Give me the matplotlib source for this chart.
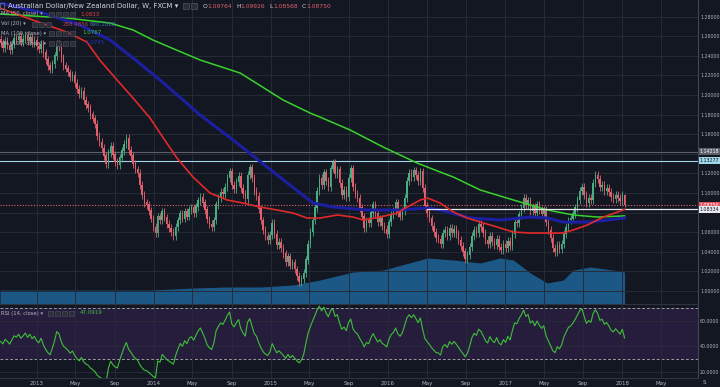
import numpy as np
import pandas as pd
import matplotlib
matplotlib.use("Agg")
import matplotlib.pyplot as plt
from matplotlib.patches import Rectangle

# weekly closes AUD/NZD (first week 2012-09-10)
closes = [
    1.2530, 1.2480, 1.2550, 1.2510, 1.2460,
    1.2520, 1.2580, 1.2560, 1.2600, 1.2540,
    1.2570, 1.2610, 1.2550, 1.2590, 1.2530,
    1.2560, 1.2500, 1.2470, 1.2520, 1.2430,
    1.2360, 1.2300, 1.2260, 1.2320, 1.2400,
    1.2520, 1.2490, 1.2380, 1.2300, 1.2270,
    1.2230, 1.2180, 1.2200, 1.2120, 1.2060,
    1.2010, 1.2040, 1.1950, 1.1900, 1.1870,
    1.1800, 1.1760, 1.1700, 1.1580, 1.1520,
    1.1460, 1.1380, 1.1300, 1.1410, 1.1480,
    1.1390, 1.1320, 1.1290, 1.1360, 1.1430,
    1.1500, 1.1560, 1.1440, 1.1380, 1.1300,
    1.1240, 1.1200, 1.1080, 1.0980, 1.0900,
    1.0880, 1.0820, 1.0740, 1.0650, 1.0590,
    1.0760, 1.0720, 1.0810, 1.0750, 1.0680,
    1.0640, 1.0600, 1.0560, 1.0650, 1.0720,
    1.0790, 1.0740, 1.0810, 1.0760, 1.0830,
    1.0850, 1.0800, 1.0860, 1.0920, 1.0960,
    1.0900, 1.0830, 1.0730, 1.0680, 1.0650,
    1.0720, 1.0880, 1.0950, 1.1010, 1.0990,
    1.1060, 1.1150, 1.1220, 1.1080, 1.1040,
    1.1110, 1.1170, 1.1050, 1.0990, 1.0940,
    1.1180, 1.1260, 1.1150, 1.1020, 1.0970,
    1.0840, 1.0720, 1.0620, 1.0560, 1.0520,
    1.0570, 1.0690, 1.0580, 1.0470, 1.0500,
    1.0440, 1.0380, 1.0300, 1.0350, 1.0260,
    1.0290, 1.0220, 1.0150, 1.0090, 1.0120,
    1.0180, 1.0320, 1.0480, 1.0600, 1.0720,
    1.0850, 1.1020, 1.1150, 1.1080, 1.1210,
    1.1120, 1.1060, 1.1250, 1.1310, 1.1190,
    1.1240, 1.1100, 1.0980, 1.1030, 1.0960,
    1.1150, 1.1250, 1.1060, 1.0990, 1.0950,
    1.0850, 1.0760, 1.0640, 1.0720, 1.0690,
    1.0800, 1.0880, 1.0790, 1.0700, 1.0740,
    1.0660, 1.0630, 1.0580, 1.0700, 1.0780,
    1.0820, 1.0900, 1.0800, 1.0760, 1.0820,
    1.0950, 1.1120, 1.1200, 1.1160, 1.1230,
    1.1180, 1.1120, 1.1220, 1.1050, 1.0870,
    1.0800, 1.0740, 1.0660, 1.0600, 1.0540,
    1.0530, 1.0480, 1.0590, 1.0620, 1.0560,
    1.0640, 1.0590, 1.0630, 1.0580, 1.0520,
    1.0460, 1.0400, 1.0330, 1.0370, 1.0450,
    1.0560, 1.0620, 1.0590, 1.0680, 1.0650,
    1.0590, 1.0520, 1.0480, 1.0560, 1.0500,
    1.0470, 1.0530, 1.0450, 1.0420, 1.0480,
    1.0440, 1.0510, 1.0460, 1.0580, 1.0700,
    1.0690, 1.0780, 1.0850, 1.0950, 1.0880,
    1.0920, 1.0820, 1.0860, 1.0800, 1.0880,
    1.0830, 1.0790, 1.0830, 1.0700, 1.0620,
    1.0540, 1.0440, 1.0400, 1.0470, 1.0430,
    1.0480, 1.0580, 1.0650, 1.0720, 1.0740,
    1.0790, 1.0850, 1.0930, 1.1020, 1.1060,
    1.0980, 1.0900, 1.0950, 1.0930, 1.1100,
    1.1180, 1.1140, 1.1060, 1.1080, 1.1020,
    1.1050, 1.1010, 1.0960, 1.0940, 1.0980,
    1.0950, 1.0920, 1.0976, 1.0875,
]
first_open = 1.2570
wick = 0.004
rsi_seed = (0.0040, 0.0048)   # avg gain / avg loss carried in from before the window

# moving averages
ma50_dates = ['2012-09-08', '2012-12-19', '2013-04-04', '2013-06-06', '2013-07-16', '2013-09-08',
              '2013-10-28', '2013-12-20', '2014-01-20', '2014-03-14', '2014-05-03', '2014-06-25',
              '2014-08-17', '2014-10-06', '2014-11-28', '2015-01-20', '2015-03-11', '2015-04-24',
              '2015-06-03', '2015-07-27', '2015-09-14', '2015-10-16', '2015-12-08', '2016-01-30',
              '2016-03-01', '2016-04-11', '2016-05-03', '2016-06-12', '2016-07-23', '2016-09-04',
              '2016-10-15', '2016-12-07', '2017-01-26', '2017-03-20', '2017-05-12', '2017-07-01',
              '2017-08-01', '2017-09-14', '2017-11-03', '2017-12-17', '2018-01-08']
ma50 = [1.2887, 1.2765, 1.2642, 1.2540, 1.2357, 1.2153, 1.1969, 1.1765, 1.1612, 1.1357,
        1.1163, 1.1000, 1.0929, 1.0898, 1.0857, 1.0827, 1.0796, 1.0745, 1.0745, 1.0776,
        1.0755, 1.0725, 1.0755, 1.0796, 1.0857, 1.0929, 1.0949, 1.0898, 1.0806, 1.0745,
        1.0704, 1.0653, 1.0602, 1.0592, 1.0592, 1.0592, 1.0623, 1.0674, 1.0755, 1.0806, 1.0833]

ma_blue_dates = ['2012-09-08', '2013-01-10', '2013-05-15', '2013-08-17', '2013-10-28', '2014-01-20',
                 '2014-04-02', '2014-05-25', '2014-09-05', '2014-12-20', '2015-04-02', '2015-05-13',
                 '2015-07-14', '2015-10-28', '2016-02-08', '2016-05-03', '2016-06-12', '2016-09-14',
                 '2016-12-16', '2017-03-20', '2017-05-12', '2017-07-01', '2017-09-23', '2018-01-08']
ma_blue = [1.2938, 1.2846, 1.2714, 1.2561, 1.2377, 1.2153, 1.1949, 1.1796, 1.1541, 1.1265,
           1.1000, 1.0898, 1.0857, 1.0827, 1.0827, 1.0847, 1.0827, 1.0745, 1.0725, 1.0755,
           1.0745, 1.0704, 1.0704, 1.0745]

ma100_dates = ['2012-09-08', '2013-04-04', '2013-08-17', '2013-10-28', '2013-12-29', '2014-01-20',
               '2014-05-25', '2014-09-27', '2015-02-08', '2015-05-03', '2015-06-03', '2015-09-05',
               '2015-12-17', '2016-04-01', '2016-06-12', '2016-07-23', '2016-10-15', '2017-01-26',
               '2017-05-12', '2017-08-01', '2017-10-15', '2018-01-08']
ma100 = [1.2826, 1.2785, 1.2734, 1.2663, 1.2561, 1.2530, 1.2357, 1.2224, 1.1949, 1.1816,
         1.1775, 1.1643, 1.1469, 1.1306, 1.1214, 1.1163, 1.1031, 1.0929, 1.0827, 1.0776,
         1.0755, 1.0767]

# volume (20) average, area at the bottom of the price panel
vol_dates = ['2012-09-08', '2013-06-01', '2013-12-20', '2014-05-03', '2014-08-17', '2014-11-28',
             '2015-03-11', '2015-06-03', '2015-09-14', '2015-12-17', '2016-04-11', '2016-05-03',
             '2016-07-23', '2016-10-15', '2016-12-16', '2017-01-26', '2017-03-20', '2017-05-12',
             '2017-07-01', '2017-08-01', '2017-09-23', '2017-12-01', '2018-01-08']
vol_ma = [300, 300, 300, 345, 367, 367, 410, 518, 690, 734, 950, 993, 950, 885, 993, 950,
          670, 453, 518, 734, 799, 734, 690]

bg = '#131722'
grid_c = '#262b38'
txt_c = '#b2b5be'

dates = pd.date_range('2012-09-10', periods=len(closes), freq='7D')
c = np.array(closes)
o = np.r_[first_open, c[:-1]]
hi = np.maximum(o, c) + wick
lo = np.minimum(o, c) - wick
hi[-1], lo[-1] = 1.09926, 1.08568

# Wilder RSI(14)
chg = c - o
ag, al = rsi_seed
rsi = []
for ch in chg:
    ag = (ag * 13 + max(ch, 0)) / 14
    al = (al * 13 + max(-ch, 0)) / 14
    rsi.append(100 - 100 / (1 + ag / al))

W, H = 720, 387
fig = plt.figure(figsize=(7.2, 3.87), dpi=100, facecolor=bg)
ax = fig.add_axes([0, (H - 304) / H, 698 / W, 304 / H], facecolor=bg)
ar = fig.add_axes([0, (H - 378) / H, 698 / W, 73 / H], facecolor=bg, sharex=ax)

xl = (pd.Timestamp('2012-09-08'), pd.Timestamp('2018-08-25'))
ticks = []
tlabels = []
for yr in range(2013, 2019):
    for m, lab in [(1, str(yr)), (5, 'May'), (9, 'Sep')]:
        t = pd.Timestamp(yr, m, 1)
        if t < xl[1]:
            ticks.append(t)
            tlabels.append(lab)

# volume area
ax.fill_between(pd.to_datetime(vol_dates), 0, np.array(vol_ma) / 6560.0,
                transform=ax.get_xaxis_transform(), color='#1c5886', lw=0, zorder=1)

# candles
up = c >= o
col = np.where(up, '#4bae82', '#e0606e')
ax.vlines(dates, lo, hi, colors=col, lw=0.6, zorder=3)
ax.bar(dates, np.abs(c - o) + 0.0004, bottom=np.minimum(o, c), width=4.6, color=col,
       lw=0, zorder=3)

ax.plot(pd.to_datetime(ma100_dates), ma100, color='#39d22c', lw=1.1, zorder=4)
ax.plot(pd.to_datetime(ma_blue_dates), ma_blue, color='#1b1fa0', lw=2.2, zorder=4)
ax.plot(pd.to_datetime(ma50_dates), ma50, color='#e02a2a', lw=1.2, zorder=5)

# horizontal levels
ax.axhline(1.14218, color='#5d606b', lw=0.8, zorder=2)
ax.axhline(1.13277, color='#9fd6e8', lw=0.8, zorder=2)
ax.axhline(1.0875, color='#e0606e', lw=0.8, ls=(0, (1, 1.5)), zorder=2)
ax.plot([pd.Timestamp('2016-05-03'), xl[1]], [1.08334, 1.08334], color='#e8e8f0', lw=0.9, zorder=4)

price_ticks = np.round(np.arange(1.00, 1.2801, 0.02), 2)
ax.set_xlim(*xl)
ax.set_ylim(0.9868, 1.2969)
ax.set_yticks(price_ticks)
# 1.14 and 1.08 sit under the level labels, so their text is hidden
ax.set_yticklabels(['' if p in (1.14, 1.08) else '%.5f' % p for p in price_ticks])
ax.yaxis.tick_right()
ax.tick_params(axis='y', length=0, pad=1.5, labelsize=3.4, labelcolor=txt_c)
ax.set_xticks(ticks)
ax.tick_params(axis='x', length=0, labelbottom=False)
ax.grid(True, color=grid_c, lw=0.7, zorder=0)

# rsi panel
ar.axhspan(30, 70, color='#261d3d', lw=0, zorder=0)
ar.axhline(70, color='#9a9aa6', lw=0.7, ls=(0, (3, 2)), zorder=1)
ar.axhline(30, color='#9a9aa6', lw=0.7, ls=(0, (3, 2)), zorder=1)
ar.plot(dates, rsi, color='#3fbf3a', lw=0.8, zorder=3)
ar.set_ylim(15.3, 72.5)
ar.set_yticks([20, 40, 60])
ar.yaxis.tick_right()
ar.yaxis.set_major_formatter(plt.FormatStrFormatter('%.4f'))
ar.tick_params(axis='y', length=0, pad=1.5, labelsize=3.4, labelcolor=txt_c)
ar.set_xticks(ticks)
ar.set_xticklabels(tlabels)
ar.tick_params(axis='x', length=0, pad=2.5, labelsize=4, labelcolor=txt_c)
ar.grid(True, color=grid_c, lw=0.7, zorder=0)

for a in (ax, ar):
    for sp in a.spines.values():
        sp.set_visible(False)
    a.spines['right'].set_visible(True)
    a.spines['right'].set_color('#434651')
    a.spines['right'].set_linewidth(0.8)
    a.spines['bottom'].set_visible(True)
    a.spines['bottom'].set_color('#2f3342')
    a.spines['bottom'].set_linewidth(0.8)


def tx(x, y, s, **kw):
    fig.text(x / W, 1 - y / H, s, va='center', **kw)


# price labels on the scale
for val, fc, tc in [(1.14218, '#5d606b', '#ffffff'), (1.13277, '#9fd6e8', '#131722'),
                    (1.0875, '#e0505e', '#ffffff'), (1.08334, '#e8e8f0', '#131722')]:
    ax.text(1.0025, val, '%.5f' % val, transform=ax.get_yaxis_transform(), fontsize=3.4,
            color=tc, va='center', ha='left', zorder=10,
            bbox=dict(boxstyle='square,pad=0.2', fc=fc, ec='none'))

tx(703, 383, 'S', fontsize=4, color=txt_c)

# header
fig.patches.append(Rectangle((0, 1 - 9 / H), 4 / W, 6 / H, transform=fig.transFigure,
                             fc='none', ec='#6a6d78', lw=0.6))
tx(8, 6, 'Australian Dollar/New Zealand Dollar, W, FXCM \u25be', fontsize=5, color='#d1d4dc')
for bx in (183, 191):
    fig.patches.append(Rectangle((bx / W, 1 - 9 / H), 6 / W, 6 / H, transform=fig.transFigure,
                                 fc='#2a2e39', ec='#50535e', lw=0.5))
x0 = 203
for lab, val in [('O', '1.09764'), ('H', '1.09926'), ('L', '1.08568'), ('C', '1.08750')]:
    tx(x0, 6, lab, fontsize=4.3, color='#d1d4dc')
    tx(x0 + 4, 6, val, fontsize=4.3, color='#e0606e')
    x0 += 33

rows = [
    (14, 'MA (50, close) \u25be', [('1.0833', '#e04040', 80)]),
    (24, 'Vol (20) \u25be', [('288.4856', '#b04050', 63), ('690.1828', '#3a78b0', 90)]),
    (33, 'MA (100, close) \u25be', [('1.0767', '#39d22c', 82)]),
    (43, 'MA (100, close) \u25be', [('1.0745', '#2a32c0', 85)]),
]
for y, lab, vals in rows:
    tx(1, y, lab, fontsize=3.8, color='#b2b5be')
    bx0 = 49 if 'Vol' not in lab else 32
    for k in range(3 if 'Vol' in lab else 4):
        fig.patches.append(Rectangle(((bx0 + 7 * k) / W, 1 - (y + 2.5) / H), 5 / W, 5 / H,
                                     transform=fig.transFigure, fc='#2a2e39', ec='#50535e', lw=0.4))
    for v, vc, vx in vals:
        tx(vx, y, v, fontsize=4, color=vc)

tx(1, 313, 'RSI (14, close) \u25be', fontsize=3.8, color='#b2b5be')
for k in range(4):
    fig.patches.append(Rectangle(((48 + 7 * k) / W, 1 - 315.5 / H), 5 / W, 5 / H,
                                 transform=fig.transFigure, fc='#2a2e39', ec='#50535e', lw=0.4))
tx(80, 313, '%.4f' % 47.0919, fontsize=4, color='#3fbf3a')

fig.savefig('out.png', dpi=100, facecolor=bg)
